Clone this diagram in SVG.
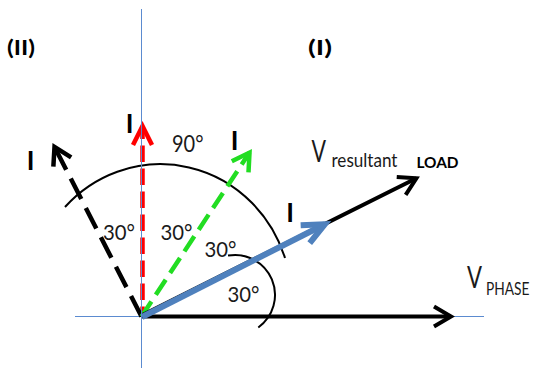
<svg xmlns="http://www.w3.org/2000/svg" width="537" height="370" viewBox="0 0 537 370">
<style>
.axis{stroke:#5b8bd0;stroke-width:1;fill:none}
.arc{stroke:#000;stroke-width:2;fill:none}
.vec{fill:none;stroke-linejoin:miter}
.t{font-family:Lato,'Liberation Sans',sans-serif;fill:#1a1a1a}
.b{font-weight:bold;fill:#000}
.deg{font-size:22px}
.cur{font-size:26px;font-weight:bold;fill:#000;text-anchor:middle}
</style>
<defs>
<marker id="mk" markerUnits="userSpaceOnUse" orient="auto" overflow="visible" markerWidth="1" markerHeight="1">
<path d="M-17,-10 L0,0 L-17,10" fill="none" stroke="#000" stroke-width="4"/>
</marker>
<marker id="mkd" markerUnits="userSpaceOnUse" orient="auto" overflow="visible" markerWidth="1" markerHeight="1">
<path d="M-17,-10 L0,0 L-17,10" fill="none" stroke="#000" stroke-width="4.5"/>
</marker>
<marker id="mr" markerUnits="userSpaceOnUse" orient="auto" overflow="visible" markerWidth="1" markerHeight="1">
<path d="M-19,-9.5 L0,0 L-19,9.5" fill="none" stroke="#ff0000" stroke-width="4.5"/>
</marker>
<marker id="mg" markerUnits="userSpaceOnUse" orient="auto" overflow="visible" markerWidth="1" markerHeight="1">
<path d="M-17,-10 L0,0 L-17,10" fill="none" stroke="#22dd22" stroke-width="4.5"/>
</marker>
<marker id="mb" markerUnits="userSpaceOnUse" orient="auto" overflow="visible" markerWidth="1" markerHeight="1">
<path d="M-22,-10 L0,0 L-22,10" fill="none" stroke="#4f81bd" stroke-width="6"/>
</marker>
</defs>
<rect width="537" height="370" fill="#fff"/>
<g id="h-axis"><line class="axis" x1="75" y1="316.5" x2="484" y2="316.5"/></g>
<g id="arcs">
<path class="arc" d="M65,207 A131,136 0 0 1 285,258"/>
<path class="arc" d="M228,255.6 A40,40 0 0 1 258.3,327.5"/>
</g>
<g id="connectors">
<line class="vec" x1="142.5" y1="316.5" x2="142.5" y2="126" stroke="#ff0000" stroke-width="4.5" stroke-dasharray="16.5 6.5" stroke-dashoffset="6.5" marker-end="url(#mr)"/>
<line class="vec" x1="141.5" y1="316.5" x2="54.5" y2="146.9" stroke="#000" stroke-width="4.5" stroke-dasharray="23 10" marker-end="url(#mkd)"/>
<line class="vec" x1="141.5" y1="316.5" x2="249.5" y2="152.6" stroke="#22dd22" stroke-width="4.5" stroke-dasharray="18 8" marker-end="url(#mg)"/>
<line class="vec" x1="141.5" y1="316.5" x2="451" y2="316.5" stroke="#000" stroke-width="4" marker-end="url(#mk)"/>
<line class="vec" x1="141.5" y1="315.5" x2="416.4" y2="178.3" stroke="#000" stroke-width="4" marker-end="url(#mk)"/>
<line class="vec" x1="142" y1="317" x2="324.8" y2="224.2" stroke="#4f81bd" stroke-width="6" marker-end="url(#mb)"/>
</g>
<g id="v-axis"><line class="axis" x1="141.5" y1="9" x2="141.5" y2="368"/></g>
<g id="labels">
<text class="t b" x="7" y="55" font-size="20" textLength="28" lengthAdjust="spacingAndGlyphs">(II)</text>
<text class="t b" x="308" y="54.5" font-size="21" textLength="24" lengthAdjust="spacingAndGlyphs">(I)</text>
<text class="t cur" x="129.5" y="133" font-size="27">I</text>
<text class="t cur" x="30.5" y="170">I</text>
<text class="t cur" x="234.5" y="150">I</text>
<text class="t cur" x="290" y="222">I</text>
<text class="t" x="172" y="152" font-size="23" textLength="31.5" lengthAdjust="spacingAndGlyphs">90°</text>
<text class="t deg" x="103" y="240" textLength="32" lengthAdjust="spacingAndGlyphs">30°</text>
<text class="t deg" x="160.5" y="240" textLength="32" lengthAdjust="spacingAndGlyphs">30°</text>
<text class="t deg" x="204.5" y="257" textLength="32" lengthAdjust="spacingAndGlyphs">30°</text>
<text class="t deg" x="227.5" y="301.7" textLength="32" lengthAdjust="spacingAndGlyphs">30°</text>
<text class="t" x="311.5" y="161.7" font-size="30" textLength="14.5" lengthAdjust="spacingAndGlyphs">V</text>
<text class="t" x="331.5" y="167.3" font-size="19" textLength="66" lengthAdjust="spacingAndGlyphs">resultant</text>
<text class="t b" x="416.5" y="167.5" font-size="16" textLength="42" lengthAdjust="spacingAndGlyphs">LOAD</text>
<text class="t" x="467" y="288.3" font-size="30" textLength="15" lengthAdjust="spacingAndGlyphs">V</text>
<text class="t" x="486" y="295" font-size="16.5" textLength="43.5" lengthAdjust="spacingAndGlyphs">PHASE</text>
</g>
</svg>
